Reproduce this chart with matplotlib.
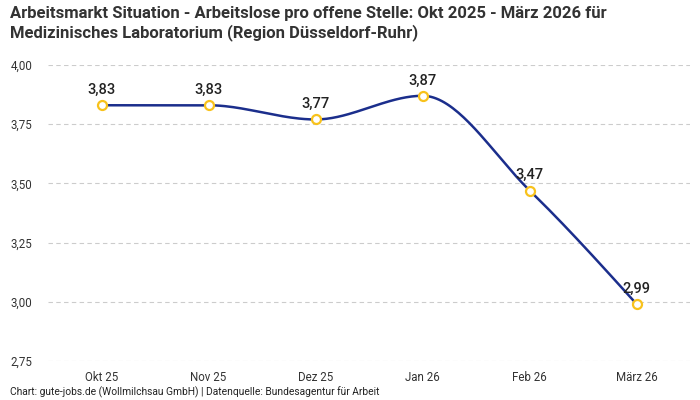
import matplotlib
matplotlib.use("Agg")
import matplotlib.pyplot as plt
import numpy as np

plt.rcParams['font.family'] = ['Roboto', 'DejaVu Sans']

# data
months = ["Okt 25", "Nov 25", "Dez 25", "Jan 26", "Feb 26", "März 26"]
values = [3.83, 3.83, 3.77, 3.87, 3.47, 2.99]
y_ticks = [2.75, 3.00, 3.25, 3.50, 3.75, 4.00]

title = ("Arbeitsmarkt Situation - Arbeitslose pro offene Stelle: Okt 2025 - März 2026 für\n"
         "Medizinisches Laboratorium (Region Düsseldorf-Ruhr)")
footer = "Chart: gute-jobs.de (Wollmilchsau GmbH) | Datenquelle: Bundesagentur für Arbeit"

LINE = "#1b2e8c"
MARKER = "#f8c21c"
TEXT = "#333333"


def monotone_curve(x, y, n=40):
    # monotone cubic interpolation (like d3 curveMonotoneX)
    x = np.asarray(x, float)
    y = np.asarray(y, float)
    h = np.diff(x)
    s = np.diff(y) / h
    m = np.zeros_like(y)
    for i in range(1, len(y) - 1):
        if s[i - 1] * s[i] <= 0:
            m[i] = 0
        else:
            p = (s[i - 1] * h[i] + s[i] * h[i - 1]) / (h[i - 1] + h[i])
            m[i] = (np.sign(s[i - 1]) + np.sign(s[i])) * min(abs(s[i - 1]), abs(s[i]), 0.5 * abs(p))
    m[0] = (3 * s[0] - m[1]) / 2
    m[-1] = (3 * s[-1] - m[-2]) / 2
    xs, ys = [], []
    for i in range(len(h)):
        t = np.linspace(0, 1, n)
        h00 = 2 * t**3 - 3 * t**2 + 1
        h10 = t**3 - 2 * t**2 + t
        h01 = -2 * t**3 + 3 * t**2
        h11 = t**3 - t**2
        xs.append(x[i] + t * h[i])
        ys.append(h00 * y[i] + h10 * h[i] * m[i] + h01 * y[i + 1] + h11 * h[i] * m[i + 1])
    return np.concatenate(xs), np.concatenate(ys)


fig = plt.figure(figsize=(7, 4), dpi=100)
ax = fig.add_axes([0.0686, 0.0975, 0.9174, 0.74])

x = np.arange(len(months))
cx, cy = monotone_curve(x, values)
ax.plot(cx, cy, color=LINE, lw=1.8, zorder=2)
ax.scatter(x, values, s=42, facecolor="white", edgecolor=MARKER, linewidth=1.6, zorder=3)

for xi, v in zip(x, values):
    ax.annotate(f"{v:.2f}".replace(".", ","), (xi, v), xytext=(0, 6), textcoords="offset points",
                ha="center", va="bottom", fontsize=10.5, fontweight="medium",
                color="#222222", zorder=4)

ax.set_xlim(-0.5, len(months) - 0.5)
ax.set_ylim(2.75, 4.0)
ax.set_yticks(y_ticks)
ax.set_yticklabels([f"{t:.2f}".replace(".", ",") for t in y_ticks])
ax.set_xticks(x)
ax.set_xticklabels(months)
ax.tick_params(length=0, labelsize=8.3, colors=TEXT)
ax.tick_params(axis="x", pad=7)
ax.tick_params(axis="y", pad=11)
ax.grid(axis="y", color="#cccccc", linestyle=(0, (4, 3)), lw=0.8)
ax.set_axisbelow(True)
for sp in ax.spines.values():
    sp.set_visible(False)

fig.text(0.014, 0.985, title, ha="left", va="top", fontsize=12, fontweight="bold",
         color=TEXT, linespacing=1.25)
fig.text(0.014, 0.004, footer, ha="left", va="bottom", fontsize=7.4, color="#222222")

fig.savefig("out.png", dpi=100)
